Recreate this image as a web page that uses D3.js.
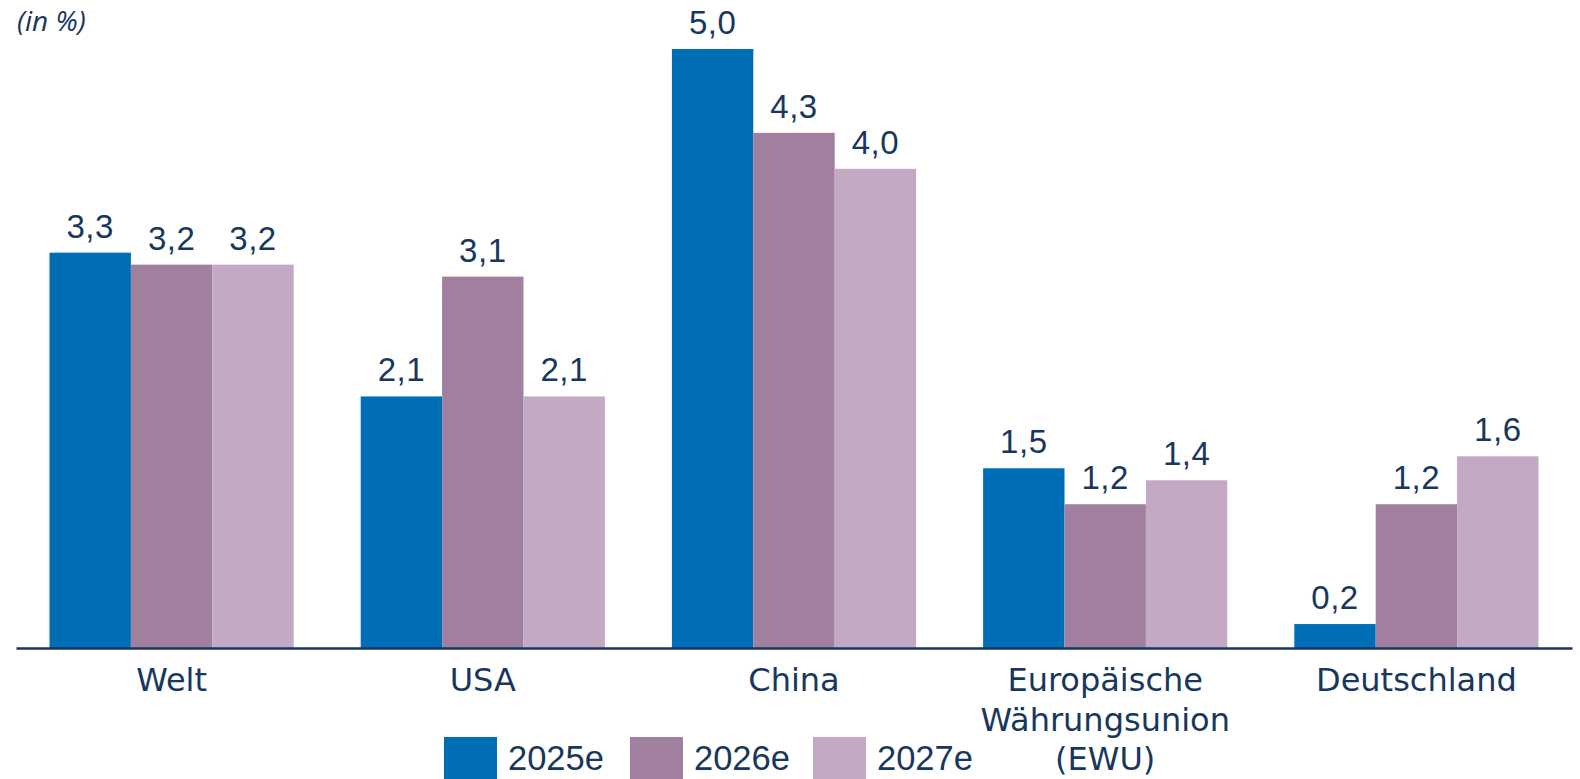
<!DOCTYPE html>
<html><head><meta charset="utf-8">
<script src="https://cdn.jsdelivr.net/npm/d3@7"></script>
<style>html,body{margin:0;padding:0;background:#fff;}svg{display:block;}</style>
</head><body>
<svg id="chart" width="1580" height="779"></svg>
<script>
const categories = [["Welt"],["USA"],["China"],["Europäische","Währungsunion","(EWU)"],["Deutschland"]];
const categoryKeys = ["Welt","USA","China","EWU","Deutschland"];
const series = ["2025e","2026e","2027e"];
const values2025 = [3.3, 2.1, 5.0, 1.5, 0.2];
const values2026 = [3.2, 3.1, 4.3, 1.2, 1.2];
const values2027 = [3.2, 2.1, 4.0, 1.4, 1.6];
const valueLabels2025 = ["3,3","2,1","5,0","1,5","0,2"];
const valueLabels2026 = ["3,2","3,1","4,3","1,2","1,2"];
const valueLabels2027 = ["3,2","2,1","4,0","1,4","1,6"];
const colors = ["#006eb7","#a07f9f","#c3a9c4"];
const navy = "#17375e";

const svg = d3.select("#chart");
const x0 = d3.scaleBand().domain(categoryKeys).range([16,1572]).padding(0);
const x1 = d3.scaleBand().domain(series).range([33.5, x0.bandwidth()-33.5]).padding(0);
const y = d3.scaleLinear().domain([0,5]).range([648,49]);

const allVals = [values2025, values2026, values2027];
const allLabels = [valueLabels2025, valueLabels2026, valueLabels2027];
const data = [];
categoryKeys.forEach((c,i)=>series.forEach((s,j)=>data.push({c, s, v: allVals[j][i], l: allLabels[j][i], j})));

svg.append("g").selectAll("rect").data(data).join("rect")
  .attr("x", d=>x0(d.c)+x1(d.s))
  .attr("y", d=>y(d.v))
  .attr("width", x1.bandwidth())
  .attr("height", d=>y(0)-y(d.v))
  .attr("fill", d=>colors[d.j]);

svg.append("g").selectAll("text").data(data).join("text")
  .attr("x", d=>x0(d.c)+x1(d.s)+x1.bandwidth()/2)
  .attr("y", d=>y(d.v)-15)
  .attr("text-anchor","middle")
  .attr("font-family","'Liberation Sans', Arial, sans-serif")
  .attr("font-size", 33)
  .attr("letter-spacing", 0.5)
  .attr("fill", navy)
  .text(d=>d.l);

// axis
const xAxis = d3.axisBottom(x0).tickSize(0).tickFormat("");
const ax = svg.append("g").attr("transform",`translate(0,${y(0)})`).call(xAxis);
ax.select(".domain").attr("stroke", navy).attr("stroke-width", 2.5);

const catG = svg.append("g");
categoryKeys.forEach((c,i)=>{
  const t = catG.append("text")
    .attr("x", x0(c)+x0.bandwidth()/2)
    .attr("y", 691)
    .attr("text-anchor","middle")
    .attr("font-family","'DejaVu Sans', sans-serif")
    .attr("font-size", 32)
    .attr("fill", navy);
  categories[i].forEach((line,k)=>{
    t.append("tspan").attr("x", x0(c)+x0.bandwidth()/2).attr("dy", k===0?0:39.5).text(line);
  });
});

// unit label
svg.append("text").attr("x",17).attr("y",31)
  .attr("font-family","'Open Sans', sans-serif").attr("font-style","italic")
  .attr("font-size",28).attr("fill",navy).text("(in %)");

// legend
const legendX = [444, 630, 813];
const lg = svg.append("g");
series.forEach((s,j)=>{
  lg.append("rect").attr("x",legendX[j]).attr("y",737).attr("width",53).attr("height",42).attr("fill",colors[j]);
  lg.append("text").attr("x",legendX[j]+64).attr("y",770)
    .attr("font-family","'Liberation Sans', Arial, sans-serif").attr("font-size",34.5)
    .attr("fill",navy).text(s);
});
</script>
</body></html>
